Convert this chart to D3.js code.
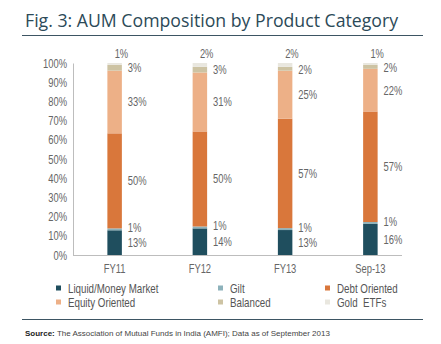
<!DOCTYPE html>
<html>
<head>
<meta charset="utf-8">
<script src="https://cdn.jsdelivr.net/npm/d3@7"></script>
<style>
  body { margin: 0; background: #fff; }
  svg { display: block; }
</style>
</head>
<body>
<div id="chart"></div>
<script>
// periods on the x axis
const periods = ['FY11', 'FY12', 'FY13', 'Sep-13'];

// product categories, bottom to top
const categories = ['Liquid/Money Market', 'Gilt', 'Debt Oriented', 'Equity Oriented', 'Balanced', 'Gold  ETFs'];

// share of AUM (%) per category, one value per period
const liquid = [13, 14, 13, 16];
const gilt = [1, 1, 1, 1];
const debt = [50, 50, 57, 57];
const equity = [33, 31, 25, 22];
const balanced = [3, 3, 2, 2];
const gold = [1, 2, 2, 1];

const yTicks = [0, 0.1, 0.2, 0.3, 0.4, 0.5, 0.6, 0.7, 0.8, 0.9, 1];

const colors = ['#1f4e5e', '#8db2bb', '#d9773b', '#edb087', '#cdc3a3', '#e9e7df'];

const width = 441, height = 344;
const series = [liquid, gilt, debt, equity, balanced, gold];
const labelFont = "'Liberation Sans', Arial, sans-serif";

const rows = periods.map((p, i) => {
  const r = { period: p };
  categories.forEach((c, k) => { r[c] = series[k][i]; });
  return r;
});

// squeeze text horizontally to get a condensed look
function condense(sel, k = 0.75) {
  sel.each(function () {
    const w = this.getComputedTextLength();
    d3.select(this)
      .attr('textLength', w * k)
      .attr('lengthAdjust', 'spacingAndGlyphs');
  });
}

const svg = d3.select('#chart').append('svg')
  .attr('width', width)
  .attr('height', height);

// title + rule
svg.append('text')
  .attr('x', 25).attr('y', 27)
  .attr('font-family', "'Open Sans', sans-serif")
  .attr('font-size', 17.7)
  .attr('fill', '#2c4a58')
  .text('Fig. 3: AUM Composition by Product Category');

svg.append('line')
  .attr('x1', 22).attr('x2', 423)
  .attr('y1', 35.5).attr('y2', 35.5)
  .attr('stroke', '#3d5563').attr('stroke-width', 1);

const x = d3.scaleBand()
  .domain(periods)
  .range([72, 413])
  .paddingInner(0.83)
  .paddingOuter(0.415);

const y = d3.scaleLinear().domain([0, 1]).range([255, 63]);

// 100% stacked
const stack = d3.stack().keys(categories).offset(d3.stackOffsetExpand);
const layers = stack(rows);

// y axis
const yAxis = svg.append('g')
  .attr('transform', 'translate(73,0)')
  .call(d3.axisLeft(y).tickValues(yTicks).tickFormat(d3.format('.0%')).tickSize(0).tickPadding(6));
yAxis.select('.domain').attr('stroke', '#bdbdbd');
yAxis.selectAll('text')
  .attr('font-family', labelFont)
  .attr('font-size', 12.5)
  .attr('fill', '#666')
  .call(condense);

// baseline
svg.append('line')
  .attr('x1', 73).attr('x2', 402)
  .attr('y1', 255.5).attr('y2', 255.5)
  .attr('stroke', '#bdbdbd');

// x labels
const xAxis = svg.append('g')
  .attr('transform', 'translate(0,255)')
  .call(d3.axisBottom(x).tickSize(0).tickPadding(9));
xAxis.select('.domain').remove();
xAxis.selectAll('text')
  .attr('font-family', labelFont)
  .attr('font-size', 12.5)
  .attr('fill', '#666')
  .call(condense);

// bars
svg.append('g')
  .selectAll('g')
  .data(layers)
  .join('g')
  .attr('fill', (d, i) => colors[i])
  .selectAll('rect')
  .data(d => d)
  .join('rect')
  .attr('x', d => x(d.data.period))
  .attr('width', x.bandwidth())
  .attr('y', d => y(d[1]))
  .attr('height', d => y(d[0]) - y(d[1]));

// value labels: right of the bar, gold on top
const labels = [];
layers.forEach((layer, k) => {
  layer.forEach(d => {
    const v = d.data[layer.key];
    let lx = x(d.data.period) + x.bandwidth() + 6;
    let ly = y((d[0] + d[1]) / 2) + 4.5;
    if (k === 1) ly -= 2;            // gilt sits just above liquid label
    if (k === 4) ly = y(d[1]) + 7.5; // balanced
    if (k === 5) { lx = x(d.data.period) + x.bandwidth() / 2; ly = y(1) - 5; }
    labels.push({ x: lx, y: ly, t: v + '%' });
  });
});

svg.append('g')
  .selectAll('text')
  .data(labels)
  .join('text')
  .attr('x', d => d.x)
  .attr('y', d => d.y)
  .attr('font-family', labelFont)
  .attr('font-size', 12.5)
  .attr('fill', '#666')
  .text(d => d.t)
  .call(condense);

// legend, 3 columns x 2 rows
const legendX = [56, 218, 325];
const legendY = [288, 302];
const legend = svg.append('g')
  .selectAll('g')
  .data(categories)
  .join('g')
  .attr('transform', (d, i) => `translate(${legendX[i % 3]},${legendY[Math.floor(i / 3)]})`);

legend.append('rect')
  .attr('x', 0).attr('y', -2.5)
  .attr('width', 5).attr('height', 5)
  .attr('fill', (d, i) => colors[i]);

legend.append('text')
  .attr('x', 12).attr('y', 4.5)
  .attr('font-family', labelFont)
  .attr('font-size', 13)
  .attr('fill', '#555')
  .attr('xml:space', 'preserve')
  .text(d => d)
  .call(condense);

// bottom rule + source
svg.append('line')
  .attr('x1', 22).attr('x2', 423)
  .attr('y1', 319.5).attr('y2', 319.5)
  .attr('stroke', '#3d5563').attr('stroke-width', 1);

const src = svg.append('text')
  .attr('x', 25).attr('y', 336)
  .attr('font-family', "'Liberation Sans', Arial, sans-serif")
  .attr('font-size', 8)
  .attr('fill', '#444');
src.append('tspan').attr('font-weight', 'bold').attr('fill', '#222').text('Source:');
src.append('tspan').text(' The Association of Mutual Funds in India (AMFI); Data as of September 2013');
</script>
</body>
</html>
